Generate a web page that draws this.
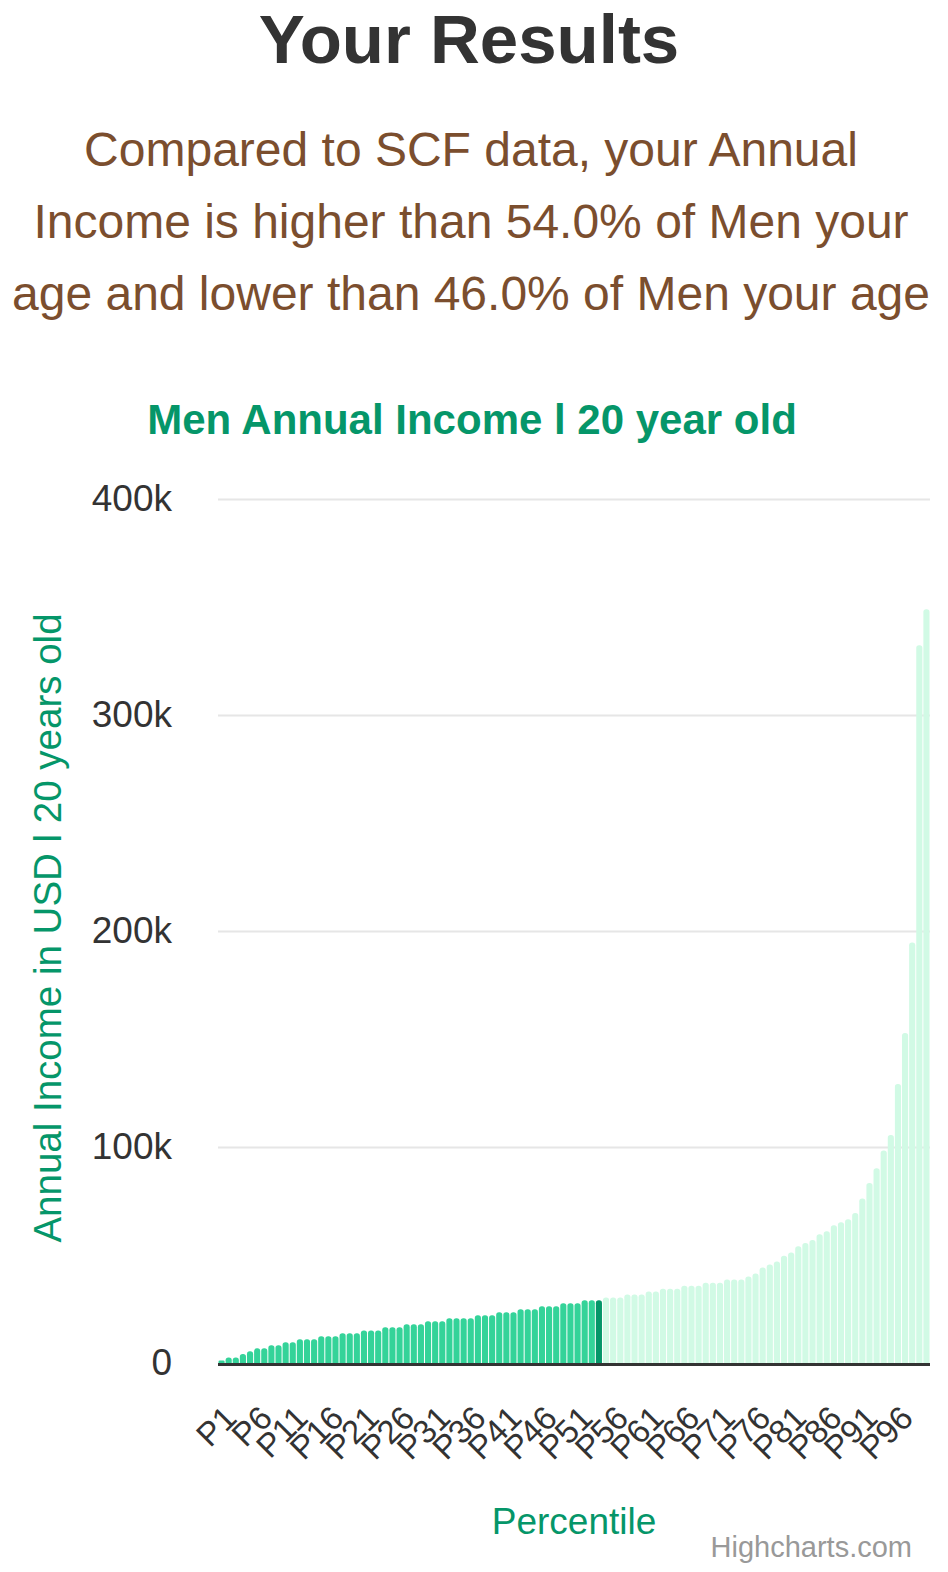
<!DOCTYPE html>
<html>
<head>
<meta charset="utf-8">
<script src="https://cdn.jsdelivr.net/npm/d3@7"></script>
<style>
  html, body { margin: 0; padding: 0; background: #fff; }
  svg { display: block; font-family: 'Liberation Sans', Arial, Helvetica, sans-serif; }
</style>
</head>
<body>
<div id="chart"></div>
<script>
const TITLE = 'Your Results';
const SUMMARY = [
  'Compared to SCF data, your Annual',
  'Income is higher than 54.0% of Men your',
  'age and lower than 46.0% of Men your age',
];
const CHART_TITLE = 'Men Annual Income l 20 year old';
const Y_TITLE = 'Annual Income in USD l 20 years old';
const X_TITLE = 'Percentile';

// percentile categories P1..P100
const percentiles = Array.from({ length: 100 }, (_, i) => 'P' + (i + 1));

// annual income in thousands USD
const incomeK = [
  1.2, 2.6, 2.6, 4.2, 5.4, 6.8, 6.8, 8.2, 8.2, 9.6,
  9.6, 11.0, 11.0, 11.0, 12.4, 12.4, 12.4, 13.8, 13.8, 13.8,
  15.1, 15.1, 15.1, 16.5, 16.5, 16.5, 17.9, 17.9, 17.9, 19.3,
  19.3, 19.3, 20.7, 20.7, 20.7, 20.7, 22.1, 22.1, 22.1, 23.5,
  23.5, 23.5, 24.9, 24.9, 24.9, 26.3, 26.3, 26.3, 27.7, 27.7,
  27.7, 29.0, 29.0, 29.0, 30.3, 30.3, 30.3, 31.7, 31.7, 31.7,
  33.1, 33.1, 34.4, 34.4, 34.4, 35.8, 35.8, 35.8, 37.2, 37.2,
  37.2, 38.6, 38.6, 38.6, 40.0, 41.4, 44.2, 45.6, 47.0, 49.7,
  51.2, 54.1, 55.5, 56.9, 59.6, 61.0, 63.8, 65.2, 66.6, 69.4,
  76.2, 83.3, 90.2, 98.4, 105.5, 129.2, 152.8, 194.7, 332.3, 349.0,
];

const userPercentile = 'P54';
const yTicks = [0, 100000, 200000, 300000, 400000];

const COLOR_BELOW = '#34d399';
const COLOR_USER = '#059669';
const COLOR_ABOVE = '#d1fae5';
const GREEN = '#059669';
const BROWN = '#7b4e2e';

const svgWidth = 948;
const svgHeight = 1572;
const plot = { left: 218, right: 930, top: 499, bottom: 1363 };

const data = percentiles.map((p, i) => ({ p, value: incomeK[i] * 1000 }));
const userIndex = percentiles.indexOf(userPercentile);

const svg = d3
  .select('#chart')
  .append('svg')
  .attr('width', svgWidth)
  .attr('height', svgHeight);

// headings
svg
  .append('text')
  .attr('x', 469)
  .attr('y', 63)
  .attr('text-anchor', 'middle')
  .attr('font-size', 69)
  .attr('font-weight', 'bold')
  .attr('fill', '#333')
  .text(TITLE);

svg
  .selectAll('text.summary')
  .data(SUMMARY)
  .join('text')
  .attr('class', 'summary')
  .attr('x', 471)
  .attr('y', (d, i) => 166 + i * 72)
  .attr('text-anchor', 'middle')
  .attr('font-size', 48)
  .attr('fill', BROWN)
  .text((d) => d);

svg
  .append('text')
  .attr('x', 472)
  .attr('y', 434)
  .attr('text-anchor', 'middle')
  .attr('font-size', 42)
  .attr('font-weight', 'bold')
  .attr('fill', GREEN)
  .text(CHART_TITLE);

// scales
const x = d3
  .scaleBand()
  .domain(percentiles)
  .range([plot.left, plot.right])
  .paddingInner(0.14)
  .paddingOuter(0.07);

const y = d3
  .scaleLinear()
  .domain([0, 400000])
  .range([plot.bottom, plot.top]);

// grid lines
const grid = svg
  .append('g')
  .attr('transform', `translate(${plot.left},0)`)
  .call(
    d3
      .axisLeft(y)
      .tickValues(yTicks.slice(1))
      .tickSize(-(plot.right - plot.left))
      .tickFormat('')
  );
grid.select('.domain').remove();
grid.selectAll('line').attr('stroke', '#e6e6e6').attr('stroke-width', 2);

// y labels
const yAxis = svg
  .append('g')
  .attr('transform', `translate(${plot.left},0)`)
  .call(
    d3
      .axisLeft(y)
      .tickValues(yTicks)
      .tickSize(0)
      .tickPadding(46)
      .tickFormat((d) => (d === 0 ? '0' : d / 1000 + 'k'))
  );
yAxis.select('.domain').remove();
yAxis
  .selectAll('text')
  .attr('font-size', 37)
  .attr('font-family', "'Liberation Sans', Arial, sans-serif")
  .attr('fill', '#333')
  .attr('dy', '0.32em');

// bars with rounded tops
const r = 2.8;
const barPath = (d) => {
  const x0 = x(d.p);
  const w = x.bandwidth();
  const y0 = plot.bottom;
  const y1 = y(d.value);
  const rr = Math.min(r, w / 2, (y0 - y1) / 2);
  return (
    `M${x0},${y0}V${y1 + rr}` +
    `Q${x0},${y1} ${x0 + rr},${y1}` +
    `H${x0 + w - rr}` +
    `Q${x0 + w},${y1} ${x0 + w},${y1 + rr}` +
    `V${y0}Z`
  );
};

svg
  .append('g')
  .selectAll('path')
  .data(data)
  .join('path')
  .attr('d', barPath)
  .attr('fill', (d, i) =>
    i < userIndex ? COLOR_BELOW : i === userIndex ? COLOR_USER : COLOR_ABOVE
  );

// x axis line
svg
  .append('line')
  .attr('x1', plot.left)
  .attr('x2', plot.right)
  .attr('y1', plot.bottom + 1.5)
  .attr('y2', plot.bottom + 1.5)
  .attr('stroke', '#333')
  .attr('stroke-width', 3);

// x labels every 5th percentile
const xAxis = svg
  .append('g')
  .attr('transform', `translate(0,${plot.bottom})`)
  .call(
    d3
      .axisBottom(x)
      .tickValues(percentiles.filter((d, i) => i % 5 === 0))
      .tickSize(0)
  );
xAxis.select('.domain').remove();
xAxis
  .selectAll('text')
  .attr('font-size', 33)
  .attr('font-family', "'Liberation Sans', Arial, sans-serif")
  .attr('fill', '#333')
  .attr('text-anchor', 'end')
  .attr('dy', null)
  .attr('y', 0)
  .attr('transform', 'translate(17,57) rotate(-45)');

// axis titles
svg
  .append('text')
  .attr('transform', `translate(61,928) rotate(-90)`)
  .attr('text-anchor', 'middle')
  .attr('font-size', 38.5)
  .attr('fill', GREEN)
  .text(Y_TITLE);

svg
  .append('text')
  .attr('x', (plot.left + plot.right) / 2)
  .attr('y', 1534)
  .attr('text-anchor', 'middle')
  .attr('font-size', 37)
  .attr('fill', GREEN)
  .text(X_TITLE);

// credits
svg
  .append('text')
  .attr('x', 912)
  .attr('y', 1557)
  .attr('text-anchor', 'end')
  .attr('font-size', 29)
  .attr('fill', '#999')
  .text('Highcharts.com');
</script>
</body>
</html>
